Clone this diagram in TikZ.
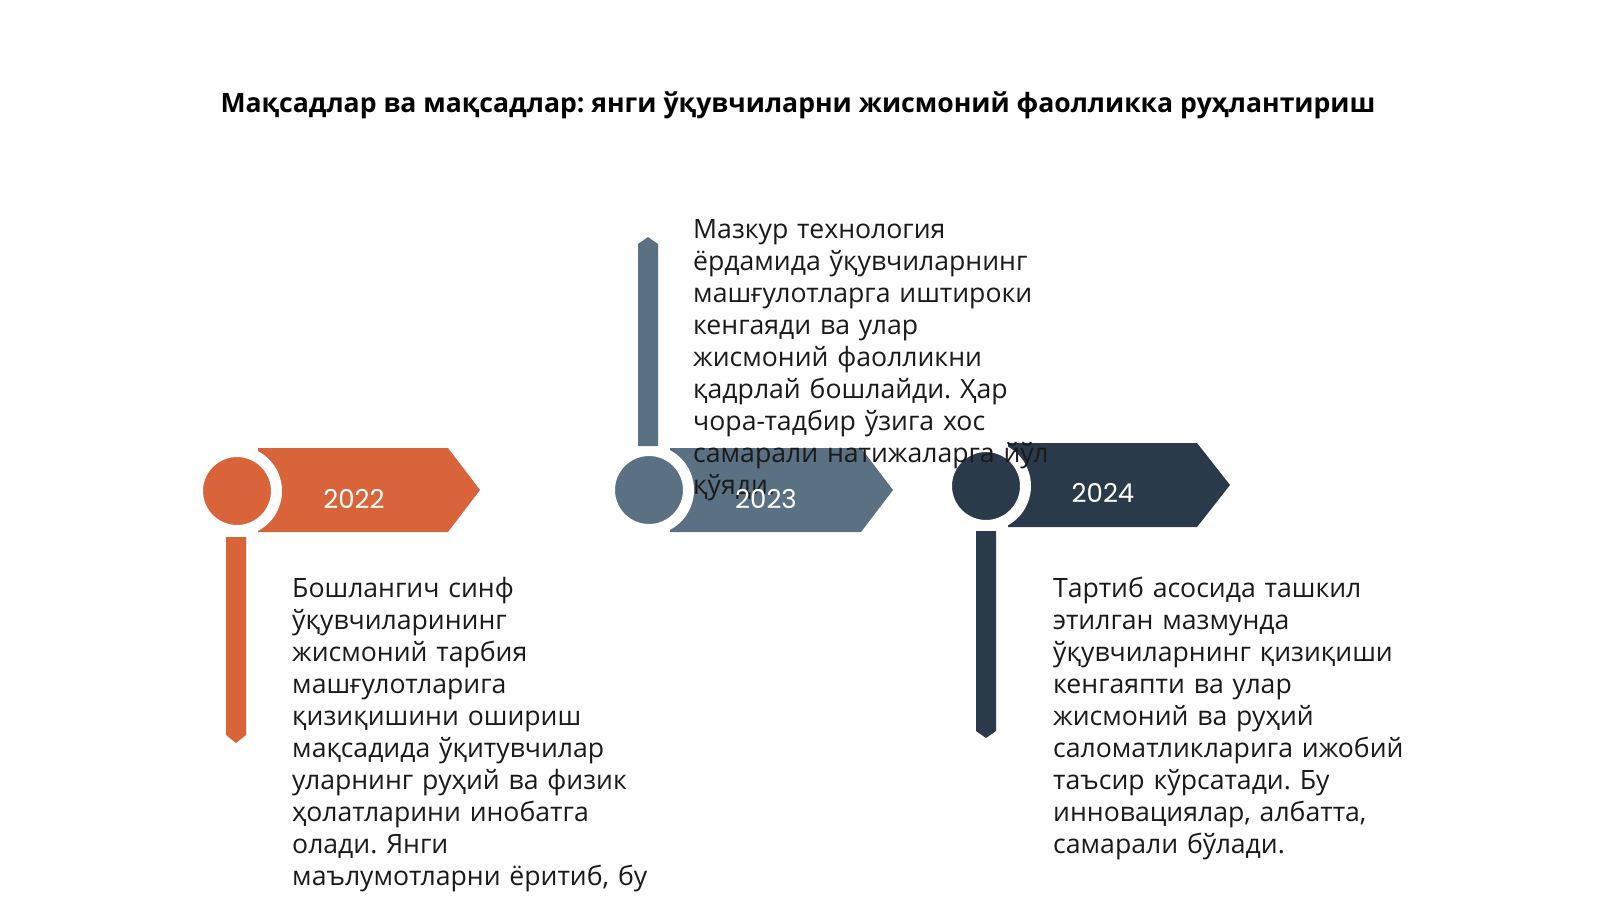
\documentclass[tikz,border=0pt]{standalone}
\usepackage{fontspec}
\setmainfont{Open Sans}
\newfontfamily\yearfont{Poppins}
\frenchspacing
\definecolor{corange}{HTML}{D9643A}
\definecolor{cslate}{HTML}{5A7083}
\definecolor{cdark}{HTML}{2B3A4B}
\definecolor{ctext}{HTML}{1A1A1A}
\tikzset{
  dot/.style={circle, minimum size=79pt, inner sep=0pt, draw=white, line width=11pt},
  txt/.style={anchor=base west, inner sep=0pt, align=left, text width=460pt, text=ctext,
    font=\fontsize{26.6}{32}\selectfont},
  yeartxt/.style={anchor=base, inner sep=0pt, text=white, font=\yearfont\fontsize{26}{30}\selectfont},
  titletxt/.style={anchor=base, inner sep=0pt, text=black, font=\bfseries\fontsize{26.6}{32}\selectfont}
}
\begin{document}
\begin{tikzpicture}[x=1pt,y=-1pt]
\useasboundingbox (0,0) rectangle (1600,900);
\fill[white] (0,0) rectangle (1600,900);

\node[titletxt] (title) at (798,112) {Мақсадлар ва мақсадлар: янги ўқувчиларни жисмоний фаолликка руҳлантириш};

% group 1 (2022)
\fill[corange] (258,448) -- (448,448) -- (480,490) -- (448,532) -- (258,532) -- cycle;
\node[dot, fill=corange] (c1) at (237,491) {};
\fill[corange] (226,537) -- (246,537) -- (246,735) -- (236,743) -- (226,735) -- cycle;

% group 2 (2023)
\fill[cslate] (670,448) -- (861,448) -- (893,490) -- (861,532) -- (670,532) -- cycle;
\node[dot, fill=cslate] (c2) at (649,490) {};
\fill[cslate] (638,446) -- (638,244) -- (648,237) -- (658,244) -- (658,446) -- cycle;

% group 3 (2024)
\fill[cdark] (1008,443) -- (1197,443) -- (1230,485) -- (1197,527) -- (1008,527) -- cycle;
\node[dot, fill=cdark] (c3) at (986,486) {};
\fill[cdark] (976,531) -- (996,531) -- (996,731) -- (986,738) -- (976,731) -- cycle;

% texts
\node[txt] (t1) at (292,597) {Бошлангич синф\\
ўқувчиларининг\\
жисмоний тарбия\\
машғулотларига\\
қизиқишини ошириш\\
мақсадида ўқитувчилар\\
уларнинг руҳий ва физик\\
ҳолатларини инобатга\\
олади. Янги\\
маълумотларни ёритиб, бу};

\node[txt] (t2) at (693,238) {Мазкур технология\\
ёрдамида ўқувчиларнинг\\
машғулотларга иштироки\\
кенгаяди ва улар\\
жисмоний фаолликни\\
қадрлай бошлайди. Ҳар\\
чора-тадбир ўзига хос\\
самарали натижаларга йўл\\
қўяди.};

\node[txt] (t3) at (1053,597) {Тартиб асосида ташкил\\
этилган мазмунда\\
ўқувчиларнинг қизиқиши\\
кенгаяпти ва улар\\
жисмоний ва руҳий\\
саломатликларига ижобий\\
таъсир кўрсатади. Бу\\
инновациялар, албатта,\\
самарали бўлади.};

% years
\node[yeartxt] (y1) at (354,508) {2022};
\node[yeartxt] (y2) at (766,508) {2023};
\node[yeartxt] (y3) at (1103,502) {2024};
\end{tikzpicture}
\end{document}
